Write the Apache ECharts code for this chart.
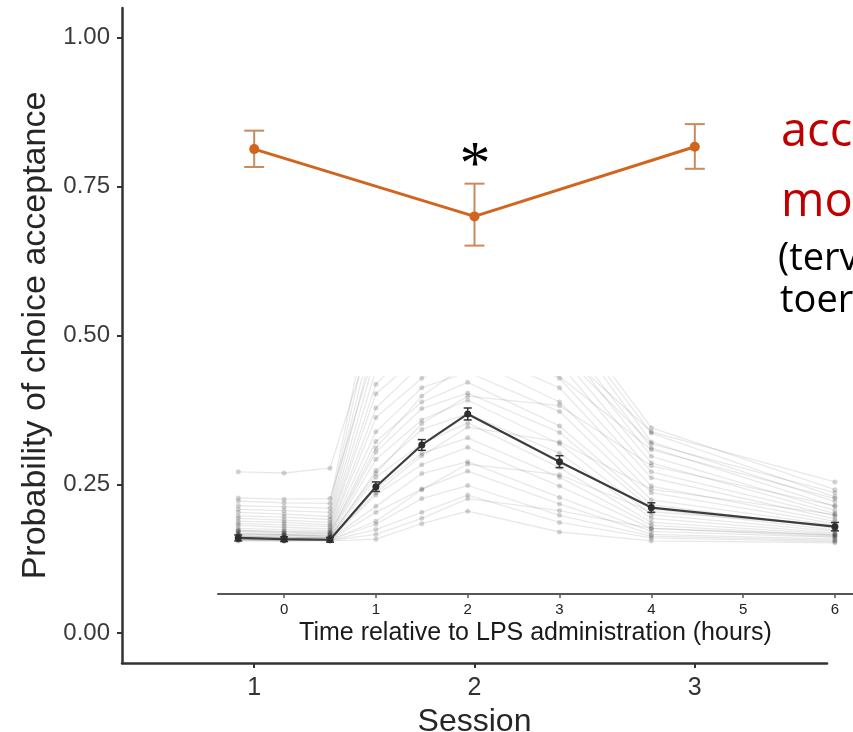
<!DOCTYPE html>
<html>
<head>
<meta charset="utf-8">
<script src="https://cdn.jsdelivr.net/npm/echarts@6/dist/echarts.min.js"></script>
<style>
html,body{margin:0;padding:0;background:#fff;}
#chart{width:853px;height:732px;}
</style>
</head>
<body>
<div id="chart"></div>
<script>
// ---- main chart data ----
const sessions = [1, 2, 3];
const sessionTicks = [1, 2, 3];
const acceptMean = [0.813, 0.700, 0.817];
const acceptLow = [0.783, 0.651, 0.780];
const acceptHigh = [0.844, 0.755, 0.855];
const probTicks = [0, 0.25, 0.5, 0.75, 1];

// ---- inset data ----
const hours = [-0.5, 0, 0.5, 1, 1.5, 2, 3, 4, 6];
const hourTicks = [0, 1, 2, 3, 4, 5, 6];
const meanCurve = [0.160, 0.158, 0.157, 0.246, 0.316, 0.368, 0.288, 0.211, 0.179];
const meanSE = [0.005, 0.004, 0.004, 0.008, 0.009, 0.010, 0.010, 0.008, 0.007];
const subjectCurves = [
  [0.155,0.155,0.155,0.158,0.184,0.205,0.170,0.155,0.152],
  [0.156,0.155,0.156,0.174,0.203,0.232,0.186,0.160,0.154],
  [0.157,0.156,0.157,0.183,0.226,0.248,0.198,0.163,0.156],
  [0.158,0.157,0.157,0.203,0.242,0.272,0.217,0.166,0.158],
  [0.159,0.158,0.158,0.213,0.268,0.288,0.228,0.171,0.161],
  [0.160,0.159,0.158,0.232,0.283,0.312,0.247,0.176,0.162],
  [0.161,0.160,0.160,0.243,0.302,0.328,0.262,0.181,0.164],
  [0.163,0.161,0.160,0.262,0.318,0.353,0.278,0.186,0.166],
  [0.164,0.163,0.161,0.273,0.342,0.368,0.302,0.193,0.168],
  [0.166,0.165,0.163,0.292,0.358,0.391,0.318,0.199,0.171],
  [0.168,0.166,0.165,0.304,0.377,0.403,0.337,0.209,0.173],
  [0.171,0.168,0.167,0.322,0.388,0.421,0.348,0.216,0.176],
  [0.173,0.171,0.170,0.338,0.412,0.438,0.372,0.224,0.181],
  [0.176,0.174,0.172,0.362,0.428,0.462,0.388,0.236,0.184],
  [0.181,0.178,0.175,0.378,0.452,0.478,0.412,0.247,0.188],
  [0.184,0.182,0.179,0.402,0.468,0.503,0.428,0.261,0.192],
  [0.188,0.186,0.182,0.418,0.492,0.518,0.452,0.271,0.197],
  [0.193,0.190,0.186,0.442,0.508,0.542,0.468,0.286,0.201],
  [0.197,0.195,0.191,0.468,0.543,0.558,0.492,0.297,0.206],
  [0.203,0.200,0.196,0.502,0.568,0.582,0.508,0.311,0.213],
  [0.208,0.206,0.203,0.528,0.602,0.598,0.532,0.321,0.221],
  [0.214,0.212,0.210,0.562,0.618,0.612,0.538,0.336,0.229],
  [0.222,0.219,0.218,0.598,0.652,0.622,0.552,0.345,0.241],
  [0.227,0.225,0.226,0.478,0.532,0.498,0.472,0.318,0.236],
  [0.271,0.269,0.277,0.522,0.558,0.521,0.478,0.338,0.254],
  [0.158,0.157,0.156,0.166,0.193,0.226,0.206,0.176,0.165],
  [0.160,0.158,0.157,0.188,0.241,0.284,0.266,0.204,0.181],
  [0.163,0.161,0.160,0.236,0.298,0.346,0.321,0.242,0.199],
  [0.167,0.165,0.163,0.268,0.352,0.398,0.382,0.281,0.214],
  [0.172,0.170,0.168,0.311,0.398,0.452,0.431,0.308,0.226]
];

const chart = echarts.init(document.getElementById('chart'), null, {renderer: 'canvas'});

function errorBars(xAxisIndex, yAxisIndex, xs, lows, highs, color, capHalf, lw, z) {
  return {
    type: 'custom',
    xAxisIndex, yAxisIndex, z: z,
    data: xs.map((x, i) => [x, lows[i], highs[i]]),
    encode: {x: 0, y: [1, 2]},
    clip: false,
    renderItem: function (params, api) {
      const x = api.value(0);
      const lo = api.coord([x, api.value(1)]);
      const hi = api.coord([x, api.value(2)]);
      const st = {stroke: color, lineWidth: lw};
      return {
        type: 'group',
        children: [
          {type: 'line', shape: {x1: lo[0], y1: lo[1], x2: hi[0], y2: hi[1]}, style: st},
          {type: 'line', shape: {x1: lo[0] - capHalf, y1: lo[1], x2: lo[0] + capHalf, y2: lo[1]}, style: st},
          {type: 'line', shape: {x1: hi[0] - capHalf, y1: hi[1], x2: hi[0] + capHalf, y2: hi[1]}, style: st}
        ]
      };
    }
  };
}

const subjectSeries = subjectCurves.map((vals) => ({
  type: 'line',
  xAxisIndex: 1, yAxisIndex: 1,
  data: hours.map((h, i) => [h, vals[i]]),
  symbol: 'circle', symbolSize: 5,
  lineStyle: {color: 'rgba(0,0,0,0.09)', width: 1.3},
  itemStyle: {color: 'rgba(0,0,0,0.17)'},
  silent: true, animation: false, z: 2
}));

const option = {
  animation: false,
  backgroundColor: '#fff',
  grid: [
    {left: 122, right: 26, top: 8, bottom: 69, outerBoundsMode: 'none', containLabel: false},
    {left: 218, right: 0, top: 377, bottom: 138, outerBoundsMode: 'none', containLabel: false}
  ],
  xAxis: [
    {
      type: 'value', gridIndex: 0, min: 0.4, max: 3.6,
      name: 'Session', nameLocation: 'middle', nameGap: 35,
      nameTextStyle: {fontSize: 32, color: '#262626', fontFamily: 'Liberation Sans'},
      axisLine: {show: true, onZero: false, lineStyle: {color: '#333', width: 2.5}},
      axisTick: {show: true, length: 5, lineStyle: {color: '#333', width: 2}, customValues: sessionTicks},
      axisLabel: {fontSize: 25, color: '#333', margin: 13, fontFamily: 'Liberation Sans', customValues: sessionTicks},
      splitLine: {show: false}
    },
    {
      type: 'value', gridIndex: 1, min: -0.72, max: 6.197,
      name: 'Time relative to LPS administration (hours)', nameLocation: 'middle', nameGap: 27,
      nameTextStyle: {fontSize: 25, color: '#1a1a1a', fontFamily: 'Liberation Sans'},
      axisLine: {show: true, onZero: false, lineStyle: {color: '#555', width: 2}},
      axisTick: {show: true, length: 4, lineStyle: {color: '#555', width: 1.5}, customValues: hourTicks},
      axisLabel: {fontSize: 15, color: '#222', margin: 8, fontFamily: 'Liberation Sans', customValues: hourTicks},
      splitLine: {show: false}
    }
  ],
  yAxis: [
    {
      type: 'value', gridIndex: 0, min: -0.05, max: 1.05,
      name: 'Probability of choice acceptance', nameLocation: 'middle', nameGap: 62, nameRotate: 90,
      nameTextStyle: {fontSize: 34, color: '#262626', fontFamily: 'Liberation Sans'},
      axisLine: {show: true, onZero: false, lineStyle: {color: '#333', width: 2.5}},
      axisTick: {show: true, length: 5, lineStyle: {color: '#333', width: 2}, customValues: probTicks},
      axisLabel: {fontSize: 24, color: '#3a3a3a', margin: 12, fontFamily: 'Liberation Sans',
        customValues: probTicks, formatter: (v) => v.toFixed(2)},
      splitLine: {show: false}
    },
    {
      type: 'value', gridIndex: 1, min: 0.066, max: 0.43,
      show: false, splitLine: {show: false}
    }
  ],
  graphic: [
    {type: 'text', x: 475, y: 167, z: 100,
      style: {text: '*', font: '62px "Liberation Serif"', fill: '#000', align: 'center', verticalAlign: 'middle'}},
    {type: 'text', x: 781, y: 109, z: 100,
      style: {text: 'acc', font: '47px "Open Sans"', fill: '#C00000', align: 'left', verticalAlign: 'top'}},
    {type: 'text', x: 781, y: 179, z: 100,
      style: {text: 'mo', font: '47px "Open Sans"', fill: '#C00000', align: 'left', verticalAlign: 'top'}},
    {type: 'text', x: 778, y: 240, z: 100,
      style: {text: '(terv', font: '38px "Open Sans"', fill: '#000', align: 'left', verticalAlign: 'top'}},
    {type: 'text', x: 780, y: 282, z: 100,
      style: {text: 'toer', font: '38px "Open Sans"', fill: '#000', align: 'left', verticalAlign: 'top'}}
  ],
  series: [
    errorBars(0, 0, sessions, acceptLow, acceptHigh, '#C98A5C', 10, 2, 3),
    {
      type: 'line', xAxisIndex: 0, yAxisIndex: 0,
      data: sessions.map((s, i) => [s, acceptMean[i]]),
      symbol: 'circle', symbolSize: 10,
      lineStyle: {color: '#D2651E', width: 3},
      itemStyle: {color: '#D2651E'},
      z: 5
    },
    ...subjectSeries,
    errorBars(1, 1, hours, meanCurve.map((m, i) => m - meanSE[i]), meanCurve.map((m, i) => m + meanSE[i]), '#333', 4, 1.5, 6),
    {
      type: 'line', xAxisIndex: 1, yAxisIndex: 1,
      data: hours.map((h, i) => [h, meanCurve[i]]),
      symbol: 'circle', symbolSize: 7,
      lineStyle: {color: '#3d3d3d', width: 2.2},
      itemStyle: {color: '#2e2e2e'},
      z: 7
    }
  ]
};
chart.setOption(option);
</script>
</body>
</html>
